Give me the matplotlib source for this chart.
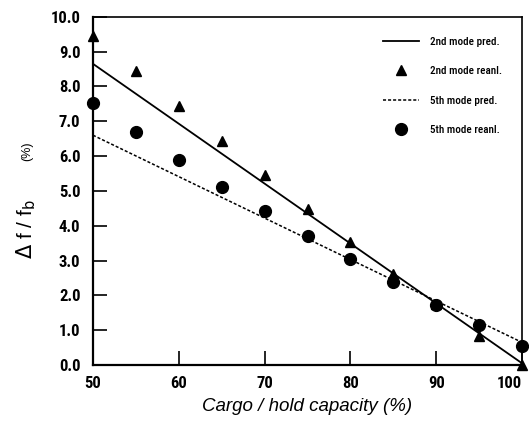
import matplotlib
matplotlib.use("Agg")
import matplotlib.pyplot as plt
import numpy as np

# loading levels (% of hold capacity)
cargo = [50, 55, 60, 65, 70, 75, 80, 85, 90, 95, 100]
# measured frequency shift from reanalysis (%)
mode2_reanl = [9.45, 8.45, 7.44, 6.44, 5.46, 4.47, 3.53, 2.62, 1.75, 0.83, 0.0]
mode5_reanl = [7.53, 6.70, 5.90, 5.12, 4.43, 3.70, 3.05, 2.38, 1.72, 1.15, 0.55]
# predicted straight lines (end points)
pred_x = [50, 100]
mode2_pred = [8.65, 0.05]
mode5_pred = [6.60, 0.65]

NARROW = ["Roboto Condensed", "DejaVu Sans"]
SANS = ["Liberation Sans", "DejaVu Sans"]

fig = plt.figure(figsize=(5.29, 4.21), dpi=100)
ax = fig.add_axes([0.1758, 0.133, 0.811, 0.827])

ax.plot(pred_x, mode2_pred, color="black", lw=1.3, label="2nd mode pred.")
ax.plot(cargo, mode2_reanl, ls="none", marker="^", ms=7, color="black",
        label="2nd mode reanl.", clip_on=False)
ax.plot(pred_x, mode5_pred, color="black", lw=1.1, ls=(0, (2, 1.3)),
        label="5th mode pred.")
ax.plot(cargo, mode5_reanl, ls="none", marker="o", ms=8.5, color="black",
        label="5th mode reanl.", clip_on=False)

ax.set_xlim(50, 100)
ax.set_ylim(0, 10)
ax.set_xticks(np.arange(50, 101, 10))
ax.set_yticks(np.arange(0, 10.1, 1))
ax.set_yticklabels([f"{v:.1f}" for v in np.arange(0, 10.1, 1)])
ax.tick_params(direction="in", length=10, width=1.2)
ax.tick_params(axis="y", pad=9)
ax.tick_params(axis="x", pad=8)
for t in ax.get_xticklabels() + ax.get_yticklabels():
    t.set_family(NARROW)
    t.set_fontsize(12)
    t.set_fontweight("bold")
# keep the last x label inside the figure
ax.get_xticklabels()[-1].set_horizontalalignment("right")

for s in ["left", "bottom"]:
    ax.spines[s].set_linewidth(1.6)
for s in ["top", "right"]:
    ax.spines[s].set_linewidth(1.2)

ax.set_xlabel("Cargo / hold capacity (%)", family=SANS, style="italic",
              fontsize=13.5, labelpad=5)
# rotated y label: main symbol group plus a smaller unit
fig.text(0.049, 0.455, r"$\Delta$ f / f$_{\mathrm{b}}$", rotation=90,
         ha="center", va="center", fontsize=15, family=SANS)
fig.text(0.052, 0.641, "(%)", rotation=90, ha="center", va="center",
         fontsize=9, family=SANS)

ax.legend(loc="upper left", bbox_to_anchor=(0.724, 0.913),
          bbox_transform=fig.transFigure, frameon=False, handlelength=3.2,
          labelspacing=1.75, borderaxespad=0, borderpad=0, handletextpad=1.0,
          prop={"family": NARROW, "size": 8, "weight": "medium"})
fig.savefig("out.png", dpi=100)
